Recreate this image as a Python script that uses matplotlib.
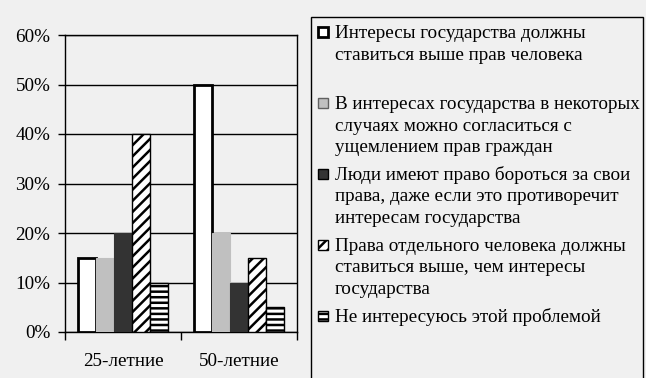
import numpy as np
import matplotlib
matplotlib.use("Agg")
import matplotlib.pyplot as plt
from matplotlib.patches import Rectangle

plt.rcParams['font.family'] = ['Liberation Serif', 'DejaVu Serif']
plt.rcParams['hatch.linewidth'] = 1.8

groups = ['25-летние', '50-летние']
labels = [
    'Интересы государства должны\nставиться выше прав человека\n',
    'В интересах государства в некоторых\nслучаях можно согласиться с\nущемлением прав граждан',
    'Люди имеют право бороться за свои\nправа, даже если это противоречит\nинтересам государства',
    'Права отдельного человека должны\nставиться выше, чем интересы\nгосударства',
    'Не интересуюсь этой проблемой',
]
values = [
    [15, 50],
    [15, 20],
    [20, 10],
    [40, 15],
    [10, 5],
]
fills = ['white', '#c0c0c0', '#333333', 'white', 'white']
edges = ['black', '#c0c0c0', '#333333', 'black', 'black']
hatches = [None, None, None, '///', '---']
lws = [2.0, 0.8, 0.8, 1.0, 1.0]

W, H = 646, 378
bg = '#f0f0f0'
fs = 13.8
fig = plt.figure(figsize=(W / 100, H / 100), dpi=100, facecolor=bg)
ax = fig.add_axes([65 / W, 46 / H, 232 / W, 297 / H])
ax.set_facecolor(bg)

x = np.arange(len(groups)) + 0.5
w = 0.154
for i in range(len(labels)):
    ax.bar(x + (i - 2) * w, values[i], w, color=fills[i], edgecolor=edges[i],
           hatch=hatches[i], linewidth=lws[i], zorder=3)

ax.set_xlim(0, 2)
ax.set_ylim(0, 60)
ax.set_yticks(range(0, 61, 10))
ax.set_yticklabels([f'{v}%' for v in range(0, 61, 10)], fontsize=fs)
ax.set_xticks([0, 1, 2])
ax.set_xticklabels([])
ax.set_xticks(x, minor=True)
ax.set_xticklabels(groups, minor=True, fontsize=fs)
ax.tick_params(axis='x', which='minor', length=0, pad=15)
ax.tick_params(axis='x', which='major', length=6, width=1, direction='out')
ax.tick_params(axis='y', length=5, width=1, direction='out', pad=5.5)
ax.yaxis.grid(True, color='black', linewidth=1, zorder=0)
ax.set_axisbelow(True)
for s in ax.spines.values():
    s.set_linewidth(1)
    s.set_color('black')

# legend box (runs off the bottom of the figure)
fig.patches.append(Rectangle((311 / W, -0.05), 332 / W, 1.05 - 17 / H,
                             transform=fig.transFigure, facecolor='none',
                             edgecolor='black', linewidth=1))

pitch = 21.7
gap = 27.5
base = 38
for i, lab in enumerate(labels):
    lines = lab.split('\n')
    fig.patches.append(Rectangle((318 / W, 1 - (base - 1) / H), 10 / W, 10 / H,
                                 transform=fig.transFigure, facecolor=fills[i],
                                 edgecolor='black' if i != 1 else '#606060',
                                 hatch=hatches[i], linewidth=2.0 if i == 0 else 1.0))
    for j, ln in enumerate(lines):
        if ln:
            fig.text(335 / W, 1 - (base + j * pitch) / H, ln, fontsize=fs,
                     ha='left', va='baseline')
    base += (len(lines) - 1) * pitch + gap

fig.savefig('out.png', dpi=100, facecolor=bg)
